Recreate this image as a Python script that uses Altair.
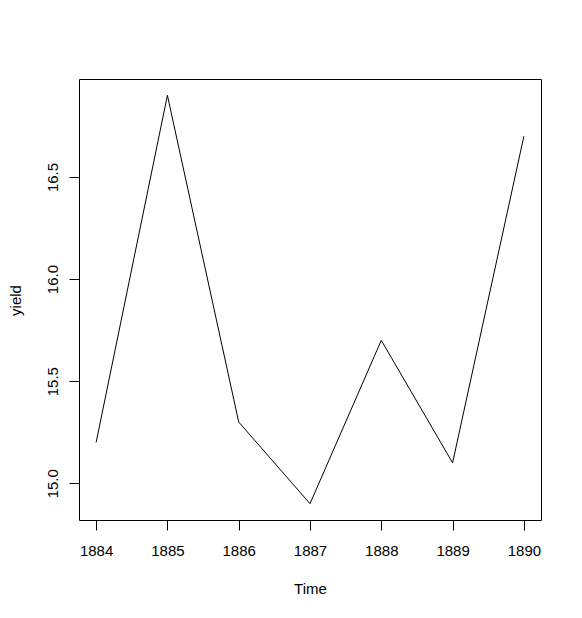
import altair as alt
import pandas as pd

years = [1884, 1885, 1886, 1887, 1888, 1889, 1890]
yield_vals = [15.2, 16.9, 15.3, 14.9, 15.7, 15.1, 16.7]
x_ticks = [1884, 1885, 1886, 1887, 1888, 1889, 1890]
y_ticks = [15.0, 15.5, 16.0, 16.5]

df = pd.DataFrame({"Time": years, "yield": yield_vals})

FONT = "Liberation Sans"

chart = alt.Chart(df).mark_line(color="black", strokeWidth=1).encode(
    x=alt.X("Time:Q",
            scale=alt.Scale(domain=[1883.76, 1890.24], nice=False, zero=False),
            axis=alt.Axis(values=x_ticks, format="d", grid=False, domain=False,
                          tickSize=10, tickColor="black", tickWidth=1,
                          labelColor="black", labelFontSize=15, labelFont=FONT,
                          labelBaseline="alphabetic", labelPadding=25,
                          title="Time", titleFont=FONT, titleFontSize=15,
                          titleFontWeight="normal", titleColor="black",
                          titleBaseline="alphabetic", titleX=231, titleY=73,
                          titleAlign="center")),
    y=alt.Y("yield:Q",
            scale=alt.Scale(domain=[14.82, 16.98], nice=False, zero=False),
            axis=alt.Axis(values=y_ticks, format=".1f", grid=False, domain=False,
                          tickSize=10, tickColor="black", tickWidth=1,
                          labelColor="black", labelFontSize=15, labelFont=FONT,
                          labelAngle=270, labelAlign="center",
                          labelBaseline="alphabetic", labelPadding=12,
                          title="yield", titleFont=FONT, titleFontSize=15,
                          titleFontWeight="normal", titleColor="black",
                          titleAngle=270, titleBaseline="alphabetic",
                          titleAlign="center", titleX=-59, titleY=221)),
).properties(
    width=462,
    height=441,
    autosize=alt.AutoSizeParams(type="none"),
    padding={"left": 71, "top": 71, "right": 30, "bottom": 90},
    background="white",
).configure_view(stroke="black", strokeWidth=1)

chart.save("out.html", embed_options={"renderer": "svg", "actions": False})
